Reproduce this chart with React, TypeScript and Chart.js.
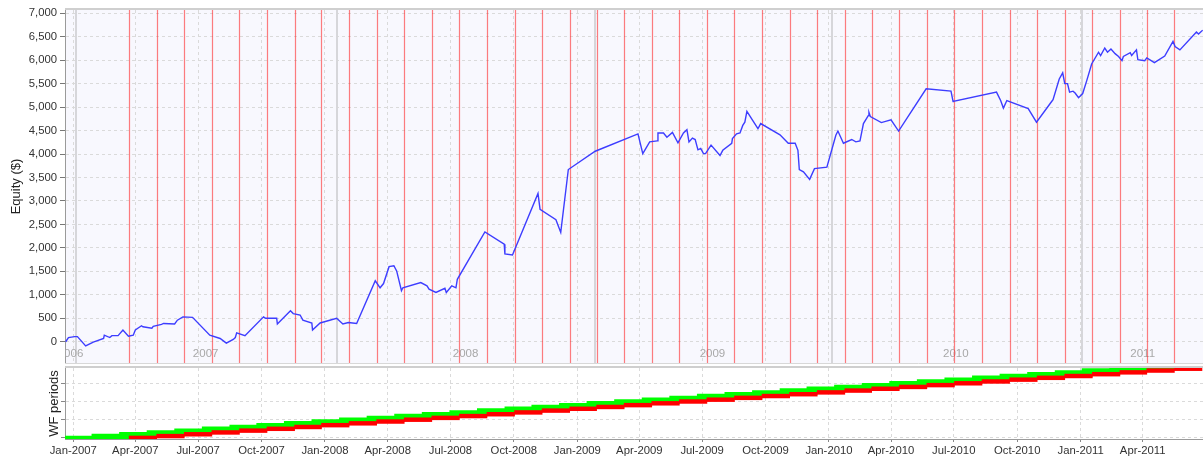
import React, { useEffect, useRef } from 'react';
import { Chart, registerables } from 'chart.js';

Chart.register(...registerables);

const FONT = "'Liberation Sans', Arial, Helvetica, sans-serif";

// Equity curve: x = days since 2007-01-01, y = equity in $
const equityDay = [
  -11, -7, 2, 6, 18, 29, 44, 45, 53, 56,
  65, 72, 80, 87, 90, 99, 101, 114, 116, 128,
  131, 147, 151, 159, 173, 198, 213, 222, 232, 235,
  237, 249, 276, 279, 295, 296, 315, 319, 329, 333,
  346, 347, 358, 382, 391, 399, 411, 438, 445, 450,
  458, 465, 469, 476, 478, 504, 513, 516, 526, 539,
  541, 549, 555, 557, 597, 625, 626, 637, 674, 677,
  700, 707, 718, 757, 819, 826, 836, 847, 848, 856,
  861, 869, 877, 885, 890, 893, 898, 902, 906, 910,
  914, 917, 925, 938, 942, 955, 956, 962, 967, 971,
  974, 977, 993, 997, 1025, 1037, 1047, 1051, 1053, 1059,
  1068, 1075, 1093, 1106, 1109, 1117, 1129, 1135, 1141, 1146,
  1153, 1154, 1156, 1172, 1186, 1197, 1237, 1273, 1276, 1339,
  1345, 1349, 1354, 1385, 1397, 1419, 1421, 1430, 1435, 1438,
  1442, 1445, 1450, 1453, 1458, 1464, 1470, 1477, 1487, 1490,
  1496, 1500, 1505, 1511, 1516, 1521, 1523, 1533, 1535, 1542,
  1544, 1554, 1557, 1568, 1583, 1595, 1598, 1605, 1629, 1632,
  1638,
];
const equityValue = [
  0, 90, 110, 110, -90, -10, 70, 140, 90, 130,
  130, 250, 120, 140, 250, 340, 320, 290, 330, 370,
  390, 380, 460, 530, 520, 140, 70, -30, 50, 90,
  190, 130, 530, 500, 500, 380, 660, 600, 570, 460,
  400, 250, 400, 500, 380, 410, 390, 1300, 1150, 1240,
  1600, 1620, 1510, 1090, 1150, 1260, 1190, 1120, 1050, 1140,
  1050, 1190, 1150, 1330, 2340, 2080, 1870, 1850, 3160, 2820,
  2600, 2330, 3670, 4060, 4430, 4010, 4260, 4280, 4450, 4450,
  4360, 4460, 4240, 4450, 4520, 4260, 4340, 4310, 4090, 4120,
  4010, 4010, 4190, 3970, 4080, 4230, 4330, 4430, 4450, 4610,
  4680, 4910, 4540, 4650, 4410, 4230, 4230, 4080, 3670, 3620,
  3460, 3690, 3720, 4400, 4490, 4230, 4310, 4260, 4280, 4650,
  4820, 4890, 4800, 4670, 4730, 4490, 5390, 5340, 5120, 5320,
  5140, 4980, 5140, 4970, 4680, 5120, 5160, 5600, 5730, 5500,
  5500, 5320, 5340, 5300, 5200, 5290, 5570, 5920, 6170, 6100,
  6260, 6170, 6240, 6140, 6080, 5990, 6080, 6160, 6100, 6220,
  6010, 5990, 6050, 5950, 6090, 6400, 6290, 6220, 6600, 6560,
  6640,
];
const equityTicks = [0, 500, 1000, 1500, 2000, 2500, 3000, 3500, 4000, 4500, 5000, 5500, 6000, 6500, 7000];

// Bottom axis quarter ticks
const quarterLabels = [
  'Jan-2007', 'Apr-2007', 'Jul-2007', 'Oct-2007',
  'Jan-2008', 'Apr-2008', 'Jul-2008', 'Oct-2008',
  'Jan-2009', 'Apr-2009', 'Jul-2009', 'Oct-2009',
  'Jan-2010', 'Apr-2010', 'Jul-2010', 'Oct-2010',
  'Jan-2011', 'Apr-2011',
];
const quarterDates = [
  '2007-01-01', '2007-04-01', '2007-07-01', '2007-10-01',
  '2008-01-01', '2008-04-01', '2008-07-01', '2008-10-01',
  '2009-01-01', '2009-04-01', '2009-07-01', '2009-10-01',
  '2010-01-01', '2010-04-01', '2010-07-01', '2010-10-01',
  '2011-01-01', '2011-04-01',
];

// Walk-forward periods: in-sample start, out-of-sample start (last entry = end of final OOS)
const wfInSampleStart = [
  '2006-12-19', '2007-01-28', '2007-03-09', '2007-04-18', '2007-05-28', '2007-07-07',
  '2007-08-16', '2007-09-24', '2007-11-03', '2007-12-13', '2008-01-22', '2008-03-02',
  '2008-04-11', '2008-05-21', '2008-06-30', '2008-08-09', '2008-09-18', '2008-10-27',
  '2008-12-06', '2009-01-15', '2009-02-24', '2009-04-05', '2009-05-15', '2009-06-24',
  '2009-08-03', '2009-09-12', '2009-10-22', '2009-11-30', '2010-01-09', '2010-02-18',
  '2010-03-30', '2010-05-09', '2010-06-18', '2010-07-28', '2010-09-06', '2010-10-16',
  '2010-11-25', '2011-01-03', '2011-02-12',
];
const wfOutSampleStart = [
  '2007-03-23', '2007-05-02', '2007-06-11', '2007-07-21', '2007-08-30', '2007-10-09',
  '2007-11-18', '2007-12-27', '2008-02-05', '2008-03-16', '2008-04-25', '2008-06-04',
  '2008-07-14', '2008-08-23', '2008-10-02', '2008-11-11', '2008-12-21', '2009-01-29',
  '2009-03-10', '2009-04-19', '2009-05-29', '2009-07-08', '2009-08-17', '2009-09-26',
  '2009-11-05', '2009-12-15', '2010-01-24', '2010-03-04', '2010-04-13', '2010-05-23',
  '2010-07-02', '2010-08-11', '2010-09-20', '2010-10-30', '2010-12-09', '2011-01-18',
  '2011-02-27', '2011-04-07', '2011-05-17', '2011-06-26',
];
const wfTicks = [0, 10, 20, 30];

// Year segments of the upper panel
const yearLabels = ['2006', '2007', '2008', '2009', '2010', '2011'];
const yearLabelDates = ['2006-12-28', '2007-07-12', '2008-07-23', '2009-07-16', '2010-07-04', '2011-04-01'];
const yearBreakDates = ['2007-01-05', '2008-01-18', '2009-01-27', '2010-01-05', '2011-01-03'];

const toDay = (s: string) => {
  const [y, m, d] = s.split('-').map(Number);
  return (Date.UTC(y, m - 1, d) - Date.UTC(2007, 0, 1)) / 86400000;
};

const X_MIN = -12;
const X_MAX = 1638.5;
const quarterDays = quarterDates.map(toDay);

const GRID = '#dadada';
const AXIS = '#9a9a9a';

const noPad = (s: any) => {
  s.paddingTop = 0;
  s.paddingBottom = 0;
  s.paddingLeft = 0;
  s.paddingRight = 0;
};

const topPlugin = {
  id: 'topDecor',
  beforeDraw(chart: any) {
    const { ctx, chartArea: a } = chart;
    ctx.save();
    ctx.fillStyle = '#f8f8fe';
    ctx.fillRect(a.left, a.top, a.right - a.left, a.bottom - a.top);
    ctx.restore();
  },
  beforeDatasetsDraw(chart: any) {
    const { ctx, chartArea: a, scales } = chart;
    const xs = scales.x;
    ctx.save();
    ctx.beginPath();
    ctx.rect(a.left, a.top, a.right - a.left, a.bottom - a.top);
    ctx.clip();
    ctx.strokeStyle = '#d6d6da';
    ctx.lineWidth = 2;
    yearBreakDates.forEach((d) => {
      const x = Math.round(xs.getPixelForValue(toDay(d)));
      ctx.beginPath();
      ctx.moveTo(x, a.top);
      ctx.lineTo(x, a.bottom);
      ctx.stroke();
    });
    ctx.fillStyle = '#a8a8a8';
    ctx.font = `11.5px ${FONT}`;
    ctx.textAlign = 'center';
    ctx.textBaseline = 'middle';
    yearLabels.forEach((t, i) => {
      ctx.fillText(t, xs.getPixelForValue(toDay(yearLabelDates[i])), a.bottom - 9);
    });
    ctx.strokeStyle = 'rgba(255,40,40,0.6)';
    ctx.lineWidth = 1.2;
    wfOutSampleStart.slice(0, wfInSampleStart.length).forEach((d) => {
      const x = Math.round(xs.getPixelForValue(toDay(d))) + 0.5;
      ctx.beginPath();
      ctx.moveTo(x, a.top);
      ctx.lineTo(x, a.bottom);
      ctx.stroke();
    });
    ctx.restore();
  },
  afterDraw(chart: any) {
    const { ctx, chartArea: a } = chart;
    ctx.save();
    ctx.strokeStyle = '#cfcfcf';
    ctx.lineWidth = 2;
    ctx.beginPath();
    ctx.moveTo(a.left, a.top - 1);
    ctx.lineTo(a.right, a.top - 1);
    ctx.stroke();
    ctx.lineWidth = 1;
    ctx.strokeStyle = '#d8d8d8';
    ctx.beginPath();
    ctx.moveTo(a.left, a.bottom + 0.5);
    ctx.lineTo(a.right, a.bottom + 0.5);
    ctx.stroke();
    ctx.restore();
  },
};

const bottomPlugin = {
  id: 'bottomDecor',
  afterDraw(chart: any) {
    const { ctx, chartArea: a } = chart;
    ctx.save();
    ctx.strokeStyle = '#cfcfcf';
    ctx.lineWidth = 2;
    ctx.beginPath();
    ctx.moveTo(a.left, a.top - 1);
    ctx.lineTo(a.right, a.top - 1);
    ctx.stroke();
    ctx.restore();
  },
};

export default function App() {
  const topRef = useRef<HTMLCanvasElement>(null);
  const botRef = useRef<HTMLCanvasElement>(null);

  useEffect(() => {
    const tickFont = { family: FONT, size: 11.3 };
    const titleFont = { family: FONT, size: 13 };

    const top = new Chart(topRef.current as HTMLCanvasElement, {
      type: 'line',
      data: {
        datasets: [
          {
            label: 'Equity',
            data: equityDay.map((x, i) => ({ x, y: equityValue[i] })),
            borderColor: '#3d3dff',
            borderWidth: 1.4,
            pointRadius: 0,
            tension: 0,
            fill: false,
          },
        ],
      },
      options: {
        animation: false,
        responsive: false,
        events: [],
        layout: { padding: { top: 10, left: 0, right: 0, bottom: 0 } },
        plugins: { legend: { display: false }, tooltip: { enabled: false } },
        scales: {
          x: {
            type: 'linear',
            min: X_MIN,
            max: X_MAX,
            afterBuildTicks: (s: any) => {
              s.ticks = quarterDays.map((v) => ({ value: v }));
            },
            ticks: { display: false },
            grid: { color: GRID, drawTicks: false },
            border: { display: false, dash: [3, 3] },
            afterFit: (s: any) => {
              s.height = 2;
              noPad(s);
            },
          },
          y: {
            type: 'linear',
            min: -453,
            max: 7070,
            afterBuildTicks: (s: any) => {
              s.ticks = equityTicks.map((v) => ({ value: v }));
            },
            ticks: {
              color: '#333',
              font: tickFont,
              padding: 3,
              callback: (v: any) => Number(v).toLocaleString('en-US'),
            },
            grid: { color: GRID, tickColor: '#777', tickLength: 5, tickBorderDash: [] },
            border: { display: true, color: AXIS, dash: [3, 3] },
            title: {
              display: true,
              text: 'Equity ($)',
              color: '#222',
              font: titleFont,
              padding: { top: 8.5, bottom: 0 },
            },
            afterFit: (s: any) => {
              s.width = 65;
              noPad(s);
            },
          },
        },
      } as any,
      plugins: [topPlugin],
    });

    const bot = new Chart(botRef.current as HTMLCanvasElement, {
      type: 'bar',
      data: {
        datasets: [
          {
            label: 'Out-of-sample',
            data: wfInSampleStart.map((_, i) => ({
              y: i,
              x: [toDay(wfOutSampleStart[i]), toDay(wfOutSampleStart[i + 1])],
            })),
            backgroundColor: '#ff0000',
            barThickness: 3.8,
            grouped: false,
            order: 0,
          },
          {
            label: 'In-sample',
            data: wfInSampleStart.map((s, i) => ({
              y: i,
              x: [toDay(s), toDay(wfOutSampleStart[i])],
            })),
            backgroundColor: '#00ff00',
            barThickness: 3.8,
            grouped: false,
            order: 1,
          },
        ],
      },
      options: {
        indexAxis: 'y',
        animation: false,
        responsive: false,
        events: [],
        layout: { padding: { top: 3, left: 0, right: 0, bottom: 0 } },
        plugins: { legend: { display: false }, tooltip: { enabled: false } },
        scales: {
          x: {
            type: 'linear',
            min: X_MIN,
            max: X_MAX,
            offset: false,
            afterBuildTicks: (s: any) => {
              s.ticks = quarterDays.map((v) => ({ value: v }));
            },
            ticks: {
              autoSkip: false,
              maxRotation: 0,
              color: '#333',
              font: tickFont,
              padding: 2,
              callback: (_v: any, i: number) => quarterLabels[i],
            },
            grid: { color: GRID, tickColor: '#888', tickLength: 3, tickBorderDash: [], offset: false },
            border: { display: true, color: AXIS, dash: [3, 3] },
            afterFit: (s: any) => {
              s.height = 18;
              noPad(s);
            },
          },
          y: {
            type: 'linear',
            min: -0.6,
            max: 38.4,
            offset: false,
            afterBuildTicks: (s: any) => {
              s.ticks = wfTicks.map((v) => ({ value: v }));
            },
            ticks: { display: false },
            grid: { color: GRID, tickColor: '#888', tickLength: 4, tickBorderDash: [], offset: false },
            border: { display: true, color: AXIS, dash: [3, 3] },
            title: {
              display: true,
              text: 'WF periods',
              color: '#222',
              font: titleFont,
              padding: { top: 47, bottom: 0 },
            },
            afterFit: (s: any) => {
              s.width = 65;
              noPad(s);
            },
          },
        },
      } as any,
      plugins: [bottomPlugin],
    });

    return () => {
      top.destroy();
      bot.destroy();
    };
  }, []);

  return (
    <div style={{ position: 'absolute', left: 0, top: 0, width: 1203, height: 457, background: '#fff' }}>
      <canvas
        ref={topRef}
        width={1203}
        height={365}
        style={{ display: 'block', position: 'absolute', left: 0, top: 0 }}
      />
      <canvas
        ref={botRef}
        width={1203}
        height={92}
        style={{ display: 'block', position: 'absolute', left: 0, top: 365 }}
      />
    </div>
  );
}
